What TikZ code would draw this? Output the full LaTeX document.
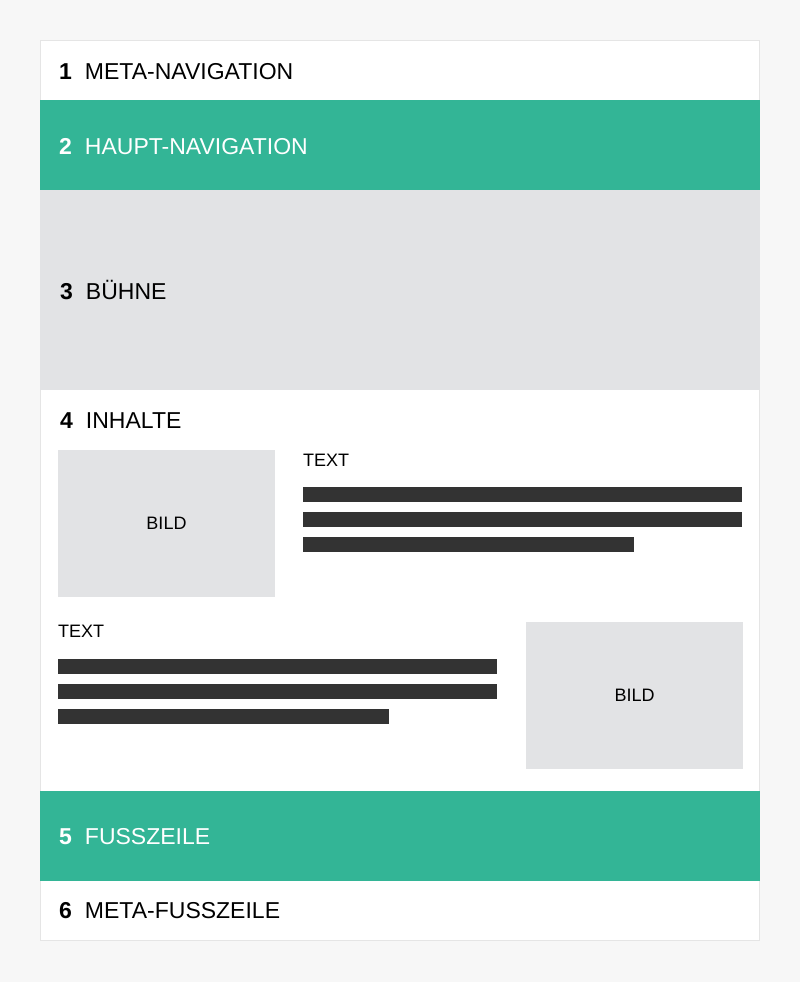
\documentclass[tikz,border=0pt]{standalone}
\usepackage{fontspec}
\setmainfont{Liberation Sans}
\usetikzlibrary{positioning}
\definecolor{seitegrau}{HTML}{F7F7F7}
\definecolor{rahmengrau}{HTML}{E5E5E5}
\definecolor{gruen}{HTML}{33B596}
\definecolor{hellgrau}{HTML}{E2E3E5}
\definecolor{balken}{HTML}{333333}
\begin{document}
\begin{tikzpicture}[x=1pt,y=-1pt,
    titel/.style={font=\fontsize{23}{24}\selectfont, anchor=base west, inner sep=0pt},
    klein/.style={font=\fontsize{18}{20}\selectfont, anchor=base west, inner sep=0pt},
    bild/.style={fill=hellgrau, font=\fontsize{18}{20}\selectfont, minimum width=217pt, minimum height=147pt, inner sep=0pt}]
      \fill[seitegrau] (0,0) rectangle (800,982);
      \useasboundingbox (0,0) rectangle (800,982);
      \filldraw[fill=white, draw=rahmengrau, line width=1pt] (40.5,40.5) rectangle (759.5,940.5);
      \fill[gruen] (40,100) rectangle (760,190);
      \fill[hellgrau] (40,190) rectangle (760,390);
      \fill[gruen] (40,791) rectangle (760,881);

      \node[titel] (meta) at (59,79) {\textbf{1}\hspace{13pt}META-NAVIGATION};
      \node[titel, white] (haupt) at (59,154) {\textbf{2}\hspace{13pt}HAUPT-NAVIGATION};
      \node[titel] (buehne) at (60,299) {\textbf{3}\hspace{13pt}BÜHNE};
      \node[titel] (inhalte) at (60,428) {\textbf{4}\hspace{13pt}INHALTE};
      \node[titel, white] (fuss) at (59,844) {\textbf{5}\hspace{13pt}FUSSZEILE};
      \node[titel] (metafuss) at (59,918) {\textbf{6}\hspace{13pt}META-FUSSZEILE};

      \node[bild] (bild1) at (166.5,523.5) {BILD};
      \node[klein] (text1) at (303,466) {TEXT};
      \fill[balken] (303,487) rectangle (742,502);
      \fill[balken] (303,512) rectangle (742,527);
      \fill[balken] (303,537) rectangle (634,552);

      \node[klein] (text2) at (58,637) {TEXT};
      \fill[balken] (58,659) rectangle (497,674);
      \fill[balken] (58,684) rectangle (497,699);
      \fill[balken] (58,709) rectangle (389,724);
      \node[bild] (bild2) at (634.5,695.5) {BILD};
\end{tikzpicture}
\end{document}
